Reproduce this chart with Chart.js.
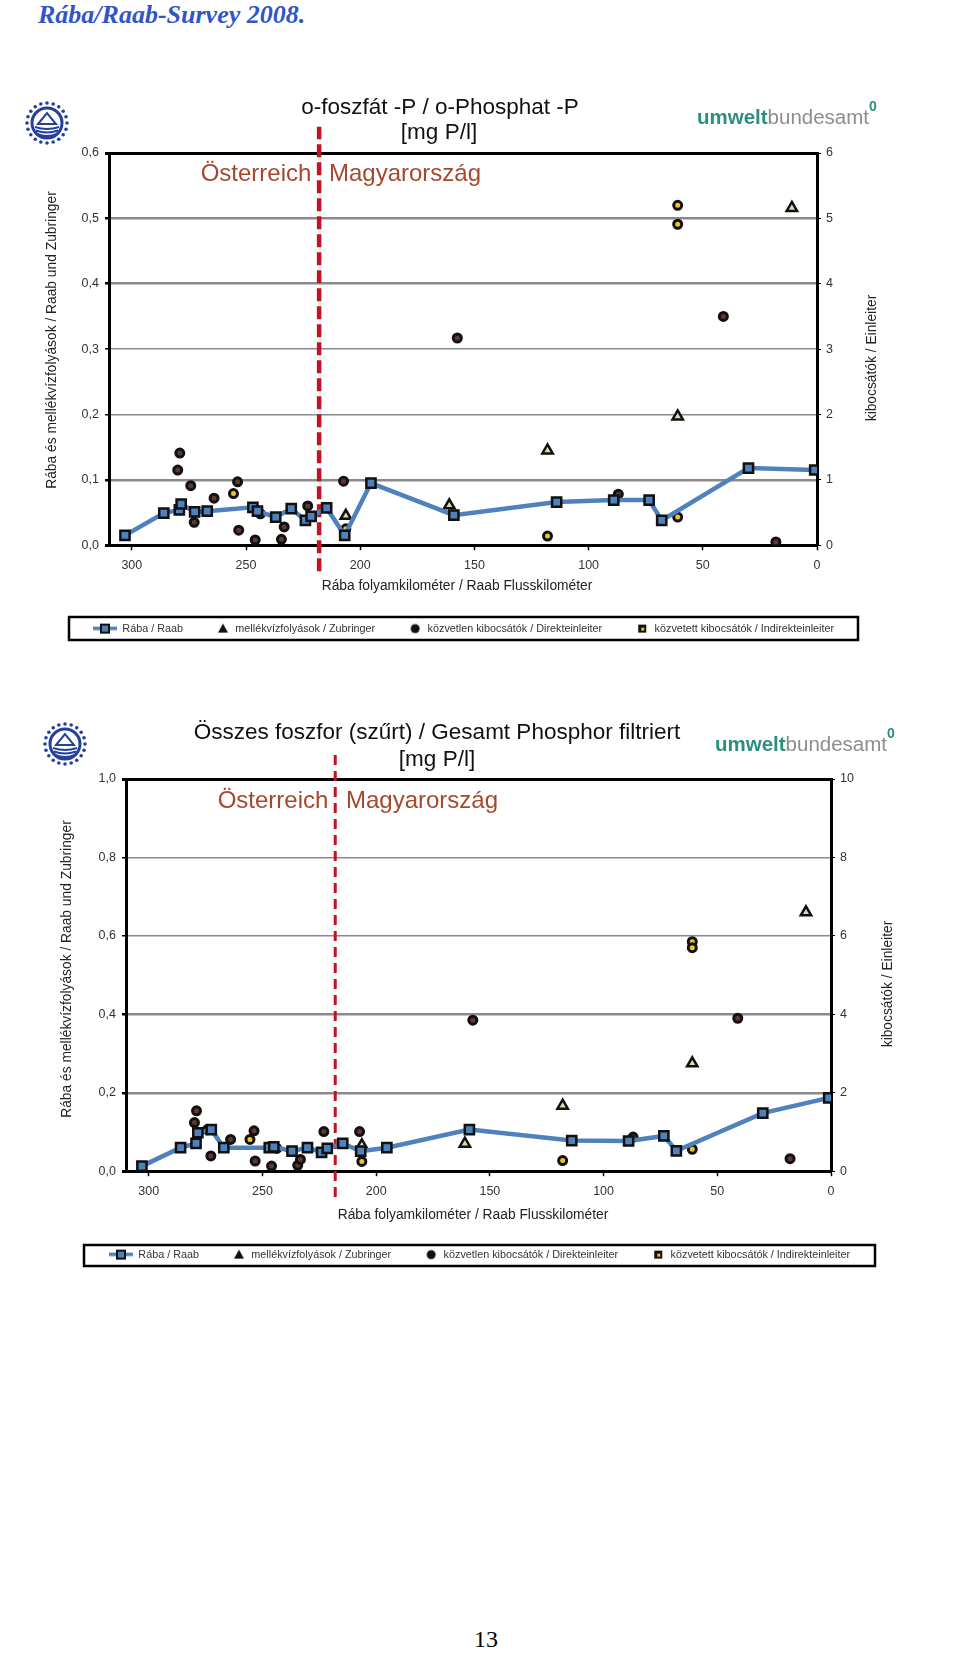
<!DOCTYPE html>
<html>
<head>
<meta charset="utf-8">
<title>Rába/Raab-Survey 2008</title>
<script src="https://cdn.jsdelivr.net/npm/chart.js@4"></script>
<style>
  html, body { margin: 0; padding: 0; background: #fff; }
  body { position: relative; width: 960px; height: 1653px; overflow: hidden; }
  #head { position: absolute; left: 38px; top: 0; font: italic bold 26px "Liberation Serif", serif; color: #2f55c9; }
  #page { position: absolute; left: 0; width: 960px; text-align: center; top: 1626px; padding-left: 12px; box-sizing: border-box; font: 24px "Liberation Serif", serif; color: #000; }
  canvas { position: absolute; left: 0; }
</style>
</head>
<body>
<div id="head">Rába/Raab-Survey 2008.</div>
<canvas id="chartP" width="960" height="590" style="top:90px"></canvas>
<canvas id="chartT" width="960" height="620" style="top:690px"></canvas>
<div id="page">13</div>
<script>
// folyamkilometer / river km of the Rába stations (same for both charts)
const raabKm = [303, 286, 279.2, 278.4, 272.5, 267, 247, 245, 237, 230.2, 224, 221.5, 214.7, 206.8, 195.3, 159, 114, 89, 73.5, 68, 30, 1];
const tribKm = [206.3, 161, 118, 61, 11];
const directKm = [279, 279.9, 274.2, 272.7, 264, 253.7, 253.2, 246, 243.7, 234.5, 233.3, 223, 207.3, 157.5, 87, 41, 18];
const indirectKm = [255.5, 206.3, 118, 61, 61, 61];
const borderKm = 218;

// o-foszfat
const po4Raab = [0.015, 0.049, 0.054, 0.063, 0.051, 0.052, 0.058, 0.052, 0.043, 0.056, 0.038, 0.044, 0.057, 0.015, 0.095, 0.046, 0.066, 0.069, 0.069, 0.038, 0.118, 0.115];
const po4Trib = [0.045, 0.061, 0.145, 0.197, 0.516];
const po4Direct = [1.41, 1.15, 0.91, 0.35, 0.72, 0.97, 0.23, 0.08, 0.48, 0.09, 0.28, 0.60, 0.98, 3.17, 0.78, 3.50, 0.05];
const po4Indirect = [0.79, 0.25, 0.14, 5.20, 4.91, 0.43];
const po4ThickGrid = [0.1, 0.4, 0.5];

// osszes foszfor
const tpRaab = [0.013, 0.060, 0.071, 0.098, 0.106, 0.060, 0.060, 0.062, 0.051, 0.060, 0.048, 0.058, 0.071, 0.051, 0.060, 0.106, 0.078, 0.077, 0.090, 0.052, 0.148, 0.187];
const tpTrib = [0.066, 0.070, 0.167, 0.275, 0.660];
const tpDirect = [1.54, 1.24, 1.06, 0.39, 0.81, 1.03, 0.26, 0.13, 0.58, 0.15, 0.30, 1.01, 1.01, 3.85, 0.87, 3.90, 0.32];
const tpIndirect = [0.81, 0.25, 0.27, 5.85, 5.70, 0.56];
const tpThickGrid = [0.2, 0.4];

const seriesNames = ['Rába / Raab', 'mellékvízfolyások / Zubringer', 'közvetlen kibocsátók / Direkteinleiter', 'közvetett kibocsátók / Indirekteinleiter'];

const toXY = (xs, ys) => xs.map((x, i) => ({ x: x, y: ys[i] }));
const comma = v => Number(v).toFixed(1).replace('.', ',');

// legend samples, 24px wide like the pointStyleWidth below
function makeIcon(draw) {
    const cv = document.createElement('canvas');
    cv.width = 24; cv.height = 12;
    draw(cv.getContext('2d'));
    return cv;
}
const legendIcons = [
    makeIcon(c => {
        c.fillStyle = '#4f81bd';
        c.fillRect(0, 4, 24, 3.5);
        c.fillRect(8, 2, 8, 8);
        c.strokeStyle = '#111';
        c.lineWidth = 2;
        c.strokeRect(8, 2, 8, 8);
    }),
    makeIcon(c => {
        c.fillStyle = '#111';
        c.beginPath(); c.moveTo(17, 1); c.lineTo(22, 10); c.lineTo(12, 10); c.closePath(); c.fill();
    }),
    makeIcon(c => {
        c.fillStyle = '#111';
        c.beginPath(); c.arc(17, 6, 4.5, 0, Math.PI * 2); c.fill();
    }),
    makeIcon(c => {
        c.fillStyle = '#111';
        c.fillRect(13, 2, 8, 8);
        c.fillStyle = '#f4c520';
        c.fillRect(16, 5, 3, 3);
    })
];

function drawEmblem(ctx, cx, cy) {
    ctx.save();
    ctx.strokeStyle = '#243f9c';
    ctx.fillStyle = '#243f9c';
    ctx.lineWidth = 3;
    ctx.beginPath(); ctx.arc(cx, cy, 15, 0, Math.PI * 2); ctx.stroke();
    for (let i = 0; i < 20; i++) {
        const a = i / 20 * Math.PI * 2;
        ctx.beginPath(); ctx.arc(cx + Math.cos(a) * 20, cy + Math.sin(a) * 20, 1.8, 0, Math.PI * 2); ctx.fill();
    }
    ctx.lineWidth = 2;
    ctx.beginPath(); ctx.moveTo(cx - 9, cy + 1); ctx.lineTo(cx, cy - 10); ctx.lineTo(cx + 9, cy + 1); ctx.closePath(); ctx.stroke();
    for (let k = 0; k < 3; k++) {
        ctx.beginPath(); ctx.moveTo(cx - 12 + k, cy + 4 + k * 3.5); ctx.quadraticCurveTo(cx, cy + 8 + k * 3.5, cx + 12 - k, cy + 4 + k * 3.5); ctx.stroke();
    }
    ctx.restore();
}

function drawBrand(ctx, x, y) {
    ctx.save();
    ctx.textBaseline = 'middle';
    ctx.textAlign = 'left';
    ctx.font = 'bold 20.5px "Liberation Sans"';
    ctx.fillStyle = '#2b8f80';
    ctx.fillText('umwelt', x, y);
    let w = ctx.measureText('umwelt').width;
    ctx.font = '20.5px "Liberation Sans"';
    ctx.fillStyle = '#8d8d8d';
    ctx.fillText('bundesamt', x + w, y);
    w += ctx.measureText('bundesamt').width;
    ctx.font = 'bold 14px "Liberation Sans"';
    ctx.fillStyle = '#2b8f80';
    ctx.fillText('0', x + w, y - 11);
    ctx.restore();
}

// frame of legend, logos and free text of each chart
const sheetPlugin = {
    id: 'sheet',
    afterDraw(chart, args, opts) {
        const ctx = chart.ctx;
        ctx.save();
        ctx.translate(0, -opts.top);
        ctx.strokeStyle = '#000';
        ctx.lineWidth = 2.5;
        ctx.strokeRect(opts.box[0], opts.box[1], opts.box[2], opts.box[3]);
        drawEmblem(ctx, opts.emblem[0], opts.emblem[1]);
        drawBrand(ctx, opts.brand[0], opts.brand[1]);
        opts.texts.forEach(t => {
            ctx.save();
            ctx.translate(t.x, t.y);
            if (t.rot) ctx.rotate(t.rot * Math.PI / 180);
            ctx.font = t.font;
            ctx.fillStyle = t.color || '#222';
            ctx.textAlign = 'center';
            ctx.textBaseline = 'middle';
            ctx.fillText(t.s, 0, 0);
            ctx.restore();
        });
        ctx.restore();
    }
};

function buildChart(id, c) {
    const isFrame = v => v === 0 || Math.abs(v - c.max) < 1e-9;
    const isThick = v => c.thick.some(t => Math.abs(t - v) < 1e-9);
    new Chart(document.getElementById(id), {
        data: {
            datasets: [
                { type: 'line', label: seriesNames[0], data: toXY(raabKm, c.raab), yAxisID: 'y', borderColor: '#4f81bd', borderWidth: 4.5, tension: 0,
                  pointStyle: 'rect', pointRadius: 6.5, pointBackgroundColor: '#4f81bd', pointBorderColor: '#111', pointBorderWidth: 2.5 },
                { type: 'scatter', label: seriesNames[1], data: toXY(tribKm, c.trib), yAxisID: 'y',
                  pointStyle: 'triangle', pointRadius: 6, backgroundColor: '#d9dcb0', borderColor: '#111', borderWidth: 2.5 },
                { type: 'scatter', label: seriesNames[2], data: toXY(directKm, c.direct), yAxisID: 'y2',
                  pointStyle: 'circle', pointRadius: 4, backgroundColor: '#5e3a30', borderColor: '#111', borderWidth: 3 },
                { type: 'scatter', label: seriesNames[3], data: toXY(indirectKm, c.indirect), yAxisID: 'y2',
                  pointStyle: 'circle', pointRadius: 4, backgroundColor: '#f4c520', borderColor: '#111', borderWidth: 3 },
                { type: 'line', label: 'border', data: toXY([borderKm, borderKm], c.borderY), yAxisID: 'y', clip: false,
                  borderColor: '#c4121f', borderWidth: c.borderW, borderDash: c.dash, pointRadius: 0 }
            ]
        },
        options: {
            responsive: false,
            animation: false,
            devicePixelRatio: 1,
            layout: { padding: c.padding },
            scales: {
                x: {
                    type: 'linear', reverse: true, min: 0, max: 310,
                    afterFit: s => { s.height = 55; },
                    border: { color: '#000', width: 3 },
                    grid: { drawOnChartArea: false, tickColor: '#000', tickLength: 5, tickWidth: 1.5 },
                    ticks: { stepSize: 50, includeBounds: false, maxRotation: 0, color: '#333', padding: 8, font: { family: 'Liberation Sans', size: 12.5 } }
                },
                y: {
                    position: 'left', min: 0, max: c.max,
                    afterFit: s => { s.width = c.leftW; },
                    border: { color: '#000', width: 3 },
                    grid: {
                        color: ctx => isFrame(ctx.tick.value) ? '#000' : '#8a8a8a',
                        lineWidth: ctx => isFrame(ctx.tick.value) ? 3 : (isThick(ctx.tick.value) ? 2.5 : 1.5),
                        tickColor: '#000', tickLength: 4
                    },
                    ticks: { stepSize: c.step, color: '#333', padding: 6, callback: comma, font: { family: 'Liberation Sans', size: 12.5 } }
                },
                y2: {
                    position: 'right', min: 0, max: c.max * 10,
                    afterFit: s => { s.width = c.rightW; },
                    border: { color: '#000', width: 3 },
                    grid: { drawOnChartArea: false, tickColor: '#000', tickLength: 4 },
                    ticks: { stepSize: c.step * 10, color: '#333', padding: 5, font: { family: 'Liberation Sans', size: 12.5 } }
                }
            },
            plugins: {
                title: { display: false },
                tooltip: { enabled: false },
                legend: {
                    position: 'bottom',
                    labels: {
                        usePointStyle: true,
                        pointStyleWidth: 24,
                        padding: 23,
                        color: '#333',
                        font: { family: 'Liberation Sans', size: 10.8 },
                        filter: item => item.text !== 'border',
                        generateLabels(chart) {
                            const items = Chart.defaults.plugins.legend.labels.generateLabels(chart);
                            items.forEach((it, i) => { if (legendIcons[i]) it.pointStyle = legendIcons[i]; });
                            return items;
                        }
                    }
                },
                sheet: c.sheet
            }
        },
        plugins: [sheetPlugin]
    });
}

const sansT = '22.5px "Liberation Sans"';
const sansC = '24px "Liberation Sans"';
const sansA = '13.8px "Liberation Sans"';
const brown = '#a5482f';

buildChart('chartP', {
    raab: po4Raab, trib: po4Trib, direct: po4Direct, indirect: po4Indirect, thick: po4ThickGrid,
    max: 0.6, step: 0.1, borderY: [-0.04, 0.64], borderW: 4.5, dash: [13, 5],
    padding: { left: 45, right: 78, top: 63, bottom: 36 }, leftW: 64, rightW: 65,
    sheet: {
        top: 90, box: [69, 617, 789, 23], emblem: [47, 123], brand: [697, 118],
        texts: [
            { s: 'o-foszfát -P / o-Phosphat -P', x: 440, y: 108, font: sansT, color: '#111' },
            { s: '[mg P/l]', x: 439, y: 133, font: sansT, color: '#111' },
            { s: 'Österreich', x: 256, y: 174, font: sansC, color: brown },
            { s: 'Magyarország', x: 405, y: 174, font: sansC, color: brown },
            { s: 'Rába és mellékvízfolyások / Raab und Zubringer', x: 52, y: 340, rot: -90, font: sansA },
            { s: 'kibocsátók / Einleiter', x: 872, y: 358, rot: -90, font: sansA },
            { s: 'Rába folyamkilométer / Raab Flusskilométer', x: 457, y: 586, font: sansA }
        ]
    }
});

buildChart('chartT', {
    raab: tpRaab, trib: tpTrib, direct: tpDirect, indirect: tpIndirect, thick: tpThickGrid,
    max: 1.0, step: 0.2, borderY: [-0.066, 1.061], borderW: 3, dash: [10, 6],
    padding: { left: 59, right: 60, top: 89, bottom: 40 }, leftW: 67, rightW: 69,
    sheet: {
        top: 690, box: [84, 1245, 791, 21], emblem: [65, 744], brand: [715, 745],
        texts: [
            { s: 'Összes foszfor (szűrt) / Gesamt Phosphor filtriert', x: 437, y: 733, font: sansT, color: '#111' },
            { s: '[mg P/l]', x: 437, y: 760, font: sansT, color: '#111' },
            { s: 'Österreich', x: 273, y: 801, font: sansC, color: brown },
            { s: 'Magyarország', x: 422, y: 801, font: sansC, color: brown },
            { s: 'Rába és mellékvízfolyások / Raab und Zubringer', x: 67, y: 969, rot: -90, font: sansA },
            { s: 'kibocsátók / Einleiter', x: 888, y: 984, rot: -90, font: sansA },
            { s: 'Rába folyamkilométer / Raab Flusskilométer', x: 473, y: 1215, font: sansA }
        ]
    }
});
</script>
</body>
</html>
